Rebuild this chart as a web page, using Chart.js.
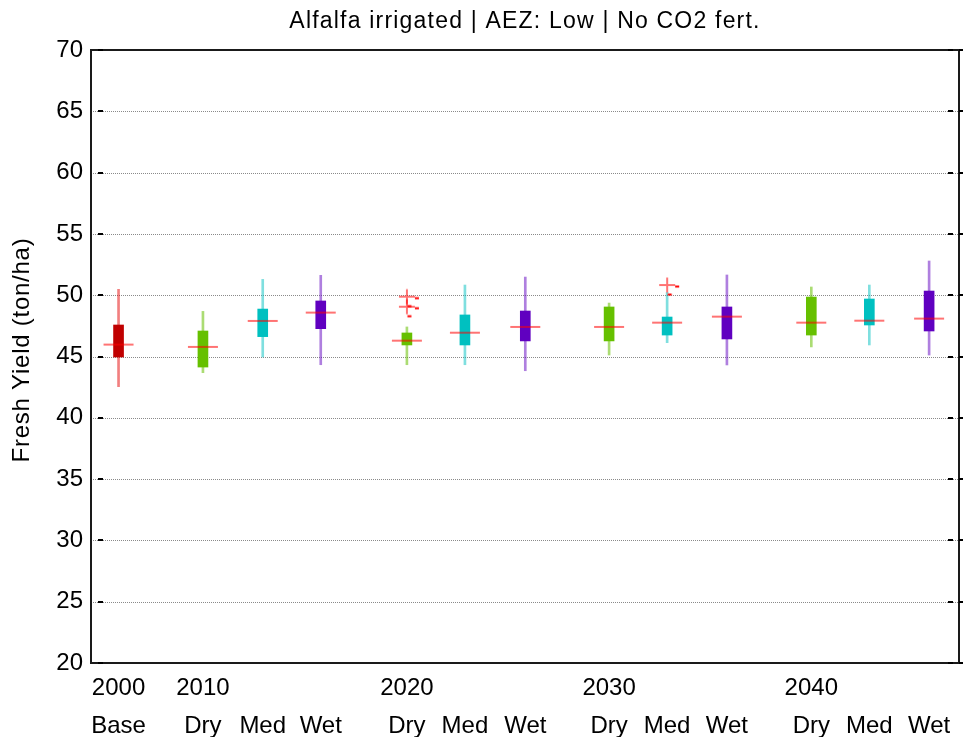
<!DOCTYPE html>
<html><head><meta charset="utf-8">
<script src="https://cdn.jsdelivr.net/npm/chart.js@4/dist/chart.umd.min.js"></script>
<style>html,body{margin:0;padding:0;background:#fff}#wrap{width:966px;height:737px}</style>
</head><body><div id="wrap"><canvas id="c" width="966" height="737"></canvas></div>
<script>
// ---- data ----
const chartTitle = 'Alfalfa irrigated | AEZ: Low | No CO2 fert.';
const yAxisTitle = 'Fresh Yield (ton/ha)';
const years = ['2000','2010','','','2020','','','2030','','','2040','',''];
const scenarios = ['Base','Dry','Med','Wet','Dry','Med','Wet','Dry','Med','Wet','Dry','Med','Wet'];
const positions = [0.47,1.91,2.93,3.92,5.39,6.38,7.41,8.84,9.83,10.85,12.29,13.28,14.30];
const whiskerLow  = [42.54,43.68,44.96,44.33,44.33,44.33,43.84,45.12,46.13,44.31,45.78,45.94,45.12];
const q1          = [44.96,44.14,46.62,47.27,45.94,45.94,46.27,46.27,46.75,46.43,46.75,47.57,47.08];
const medians     = [45.97,45.78,47.90,48.58,46.29,46.94,47.41,47.41,47.76,48.25,47.76,47.92,48.09];
const q3          = [47.57,47.08,48.87,49.53,46.92,48.39,48.71,49.04,48.22,49.04,49.85,49.69,50.34];
const whiskerHigh = [50.48,48.68,51.29,51.62,47.41,50.83,51.48,49.36,50.22,51.65,50.67,50.83,52.79];
const outlierIndex = [4,4,8];
const outlierValue = [49.88,49.06,50.83];
const yMin = 20, yMax = 70, yStep = 5;
const xMax = 14.81;

// ---- styles ----
const boxColor = {Base:'#c00000', Dry:'#66c000', Med:'#00c0c0', Wet:'#6000c0'};
const whiskerColor = {Base:'rgba(230,0,0,0.5)', Dry:'rgba(102,192,0,0.55)', Med:'rgba(0,192,192,0.5)', Wet:'rgba(96,0,192,0.5)'};
const FONT = "'Liberation Sans', Arial, Helvetica, sans-serif";

// outlier marker: '+' with small render dashes
function makeMarker(){
  const c = document.createElement('canvas'); c.width = 40; c.height = 40;
  const g = c.getContext('2d');
  g.strokeStyle = 'rgba(255,0,0,0.55)'; g.lineWidth = 2;
  g.beginPath(); g.moveTo(12,20); g.lineTo(28,20); g.moveTo(20,12.5); g.lineTo(20,27.5); g.stroke();
  g.fillStyle = '#ff0000';
  g.fillRect(28,20.5,4,2);
  g.fillRect(20.5,28.5,4,2);
  return c;
}

const framePlugin = {
  id: 'frame',
  beforeDatasetsDraw(chart){
    const {ctx, chartArea:a, scales:{y}} = chart;
    ctx.save();
    ctx.strokeStyle = '#8a8a8a'; ctx.lineWidth = 1; ctx.setLineDash([1,1]);
    for (let v = yMin + yStep; v < yMax; v += yStep){
      const py = Math.round(y.getPixelForValue(v)) + 0.5;
      ctx.beginPath(); ctx.moveTo(a.left, py); ctx.lineTo(a.right, py); ctx.stroke();
    }
    ctx.restore();
  },
  afterDatasetsDraw(chart){
    const {ctx, chartArea:a, scales:{y}} = chart;
    ctx.save();
    ctx.strokeStyle = '#1a1a1a'; ctx.lineWidth = 2;
    ctx.strokeRect(a.left, a.top, a.right - a.left, a.bottom - a.top);
    ctx.fillStyle = '#000';
    for (let v = yMin; v <= yMax; v += yStep){
      const py = Math.round(y.getPixelForValue(v));
      ctx.fillRect(a.left + 7, py - 1, 5, 2);
      ctx.fillRect(a.right - 11, py - 1, 5, 2);
      ctx.fillRect(a.right, py - 1, 4, 2);
    }
    // chart title, centred over the plot area
    ctx.fillStyle = '#000';
    ctx.font = "23px " + FONT;
    ctx.textAlign = 'center'; ctx.textBaseline = 'middle';
    if ('letterSpacing' in ctx) ctx.letterSpacing = '1.2px';
    ctx.fillText(chartTitle, (a.left + a.right) / 2, 22);
    // y axis title
    ctx.font = "24px " + FONT;
    if ('letterSpacing' in ctx) ctx.letterSpacing = '0.75px';
    ctx.translate(22, 350);
    ctx.rotate(-Math.PI / 2);
    ctx.fillText(yAxisTitle, 0, 0);
    ctx.restore();
  }
};

const lbl = i => scenarios[i];
const boxData = positions.map((p,i)=>({x:p, y:[q1[i], q3[i]]}));
const whiskerData = positions.map((p,i)=>({x:p, y:[whiskerLow[i], whiskerHigh[i]]}));
const medianData = positions.map((p,i)=>({x:p, y:medians[i]}));
const outlierData = outlierIndex.map((k,j)=>({x:positions[k], y:outlierValue[j]}));

new Chart(document.getElementById('c'), {
  type: 'bar',
  data: {
    datasets: [
      {type:'scatter', data: outlierData, pointStyle: makeMarker(), pointRadius: 8, order: 1},
      {type:'scatter', data: medianData, pointStyle: 'line', pointRadius: 15,
       pointBorderWidth: 2, pointBorderColor: 'rgba(255,0,0,0.55)', pointBackgroundColor: 'rgba(255,0,0,0.55)', order: 2},
      {type:'bar', data: boxData, barThickness: 10, grouped: false, borderWidth: 0,
       backgroundColor: positions.map((p,i)=>boxColor[lbl(i)]), order: 3},
      {type:'bar', data: whiskerData, barThickness: 2, grouped: false, borderWidth: 0,
       backgroundColor: positions.map((p,i)=>whiskerColor[lbl(i)]), order: 4}
    ]
  },
  options: {
    responsive: false, animation: false, devicePixelRatio: 1,
    layout: {autoPadding: false, padding: {left: 0, right: 7, top: 50, bottom: 0}},
    plugins: {legend: {display: false}, tooltip: {enabled: false}, title: {display: false}},
    scales: {
      x: {
        type: 'linear', min: 0, max: xMax, offset: false,
        grid: {display: false, drawTicks: false, tickLength: 0}, border: {display: false},
        afterBuildTicks: s => { s.ticks = positions.map(v=>({value: v})); },
        afterFit: s => { s.height = 74; s.paddingLeft = 0; s.paddingRight = 0; },
        ticks: {autoSkip: false, maxRotation: 0, minRotation: 0, padding: 6, color: '#000',
                font: {family: FONT, size: 24, lineHeight: 1.583},
                callback: (v, i) => [years[i], scenarios[i]]}
      },
      y: {
        type: 'linear', min: yMin, max: yMax,
        grid: {display: false, drawTicks: false, tickLength: 0}, border: {display: false},
        afterFit: s => { s.width = 91; s.paddingTop = 0; s.paddingBottom = 0; },
        ticks: {stepSize: yStep, padding: 8, color: '#000', font: {family: FONT, size: 24}}
      }
    }
  },
  plugins: [framePlugin]
});
</script></body></html>
